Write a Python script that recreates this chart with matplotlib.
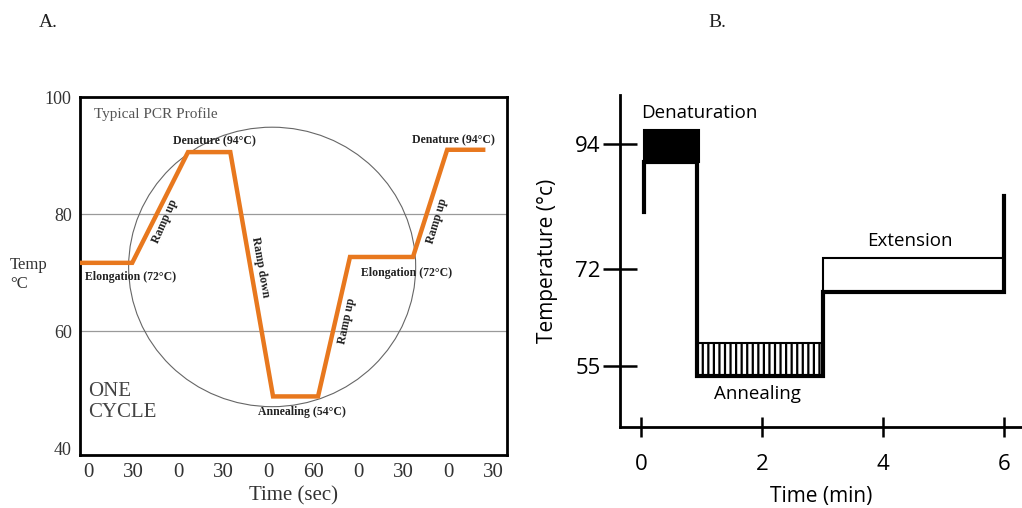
import numpy as np
import matplotlib.pyplot as plt
from matplotlib.patches import Ellipse, Rectangle

# ---- Panel A data ----
a_ticks = list(range(10))
a_tick_labels = ["0", "30", "0", "30", "0", "60", "0", "30", "0", "30"]
profile_x = [-0.18, 0.98, 2.22, 3.16, 4.11, 5.11, 5.82, 7.22, 7.98, 8.78]
profile_y = [71.7, 71.7, 90.6, 90.6, 48.9, 48.9, 72.7, 72.7, 91.0, 91.0]
a_yticks = [40, 60, 80, 100]
a_grid = [60, 80]

# ---- Panel B data ----
b_xticks = [0, 2, 4, 6]
b_yticks = [94, 72, 55]
# outline of the temperature trace (min, degC)
trace_x = [0.05, 0.05, 0.93, 0.93, 3.0, 3.0, 6.0, 6.0]
trace_y = [82.1, 90.9, 90.9, 53.2, 53.2, 68.0, 68.0, 84.9]
# step blocks: (start, end, low, high)
denat_block = (0.05, 0.96, 90.9, 96.6)
anneal_block = (0.93, 3.0, 53.2, 59.05)
extend_block = (3.0, 6.0, 68.0, 74.0)

orange = "#E8781E"
serif = "Liberation Serif"
sans = "Open Sans"

fig = plt.figure(figsize=(10.22, 5.08), dpi=100)

# ================= Panel A =================
ax = fig.add_axes([0.0783, 0.1043, 0.4178, 0.7047])
ax.set_xlim(-0.18, 9.31)
ax.set_ylim(38.9, 100)
for g in a_grid:
    ax.axhline(g, color="#9a9a9a", lw=0.9, zorder=1)

# the "one cycle" circle drawn round the middle of the profile
circ = Ellipse((4.09, 71.0), 6.38, 47.7, fill=False, ec="#666666", lw=0.8, zorder=2)
ax.add_patch(circ)
ax.plot(profile_x, profile_y, color=orange, lw=3.2, solid_joinstyle="miter", zorder=3)

for s in ax.spines.values():
    s.set_linewidth(2)
ax.set_xticks(a_ticks)
ax.set_xticklabels(a_tick_labels, family=serif, fontsize=15, color="#333333")
ax.set_yticks(a_yticks)
ax.set_yticklabels([str(v) for v in a_yticks], family=serif, fontsize=13, color="#333333")
ax.tick_params(length=0, pad=6)
ax.tick_params(axis="x", pad=6)
ax.set_xlabel("Time (sec)", family=serif, fontsize=15, color="#333333", va="center")
ax.xaxis.set_label_coords(0.5, -0.113)

ax.text(0.12, 98.2, "Typical PCR Profile", family=serif, fontsize=11, color="#555555", va="top")
lab = dict(family=serif, fontsize=8.5, fontweight="bold", color="#222222", ha="center", va="center")
ax.text(2.8, 92.4, "Denature (94°C)", **lab)
ax.text(8.13, 92.7, "Denature (94°C)", **lab)
ax.text(0.95, 69.3, "Elongation (72°C)", **lab)
ax.text(7.07, 70.0, "Elongation (72°C)", **lab)
ax.text(4.76, 46.3, "Annealing (54°C)", **lab)
ax.text(1.71, 78.8, "Ramp up", rotation=66, **lab)
ax.text(3.83, 71.0, "Ramp down", rotation=-80, **lab)
ax.text(5.76, 61.8, "Ramp up", rotation=78, **lab)
ax.text(7.76, 78.8, "Ramp up", rotation=73, **lab)
ax.text(0.0, 44.5, "ONE\nCYCLE", family=serif, fontsize=15, color="#444444",
        va="bottom", linespacing=1.15)
fig.text(0.010, 0.46, "Temp\n°C", family=serif, fontsize=12, color="#333333",
         va="center", ha="left", linespacing=1.3)

fig.text(0.038, 0.955, "A.", family=serif, fontsize=14, color="#222222", va="center")
fig.text(0.693, 0.955, "B.", family=serif, fontsize=14, color="#222222", va="center")

# ================= Panel B =================
bx = fig.add_axes([0.6067, 0.1594, 0.3933, 0.6535])
bx.set_xlim(-0.35, 6.3)
bx.set_ylim(44.25, 102.7)
for side in ["top", "right"]:
    bx.spines[side].set_visible(False)
for side in ["left", "bottom"]:
    bx.spines[side].set_linewidth(2)

x0, x1, y0, y1 = denat_block
bx.add_patch(Rectangle((x0, y0), x1 - x0, y1 - y0, fc="black", ec="black", lw=1.5))
plt.rcParams["hatch.linewidth"] = 1.6
x0, x1, y0, y1 = anneal_block
bx.add_patch(Rectangle((x0, y0), x1 - x0, y1 - y0, fc="white", ec="black", lw=1.5, hatch="|||"))
x0, x1, y0, y1 = extend_block
bx.add_patch(Rectangle((x0, y0), x1 - x0, y1 - y0, fc="white", ec="black", lw=1.5))
bx.plot(trace_x, trace_y, color="black", lw=3, solid_joinstyle="miter", zorder=4)

bx.set_xticks(b_xticks)
bx.set_xticklabels([str(v) for v in b_xticks], family=sans, fontsize=16)
bx.set_yticks(b_yticks)
bx.set_yticklabels([str(v) for v in b_yticks], family=sans, fontsize=16)
bx.tick_params(direction="inout", width=1.8, colors="black")
bx.tick_params(axis="x", length=15, pad=12)
bx.tick_params(axis="y", length=24, pad=2)
bx.set_xlabel("Time (min)", family=sans, fontsize=15, labelpad=8)
bx.set_ylabel("Temperature (°c)", family=sans, fontsize=15, labelpad=12)

bx.text(0.0, 99.5, "Denaturation", family=sans, fontsize=13.5, va="center")
bx.text(4.45, 77.0, "Extension", family=sans, fontsize=13.5, va="center", ha="center")
bx.text(1.93, 50.1, "Annealing", family=sans, fontsize=13.5, va="center", ha="center")

fig.savefig("out.png", dpi=100)
